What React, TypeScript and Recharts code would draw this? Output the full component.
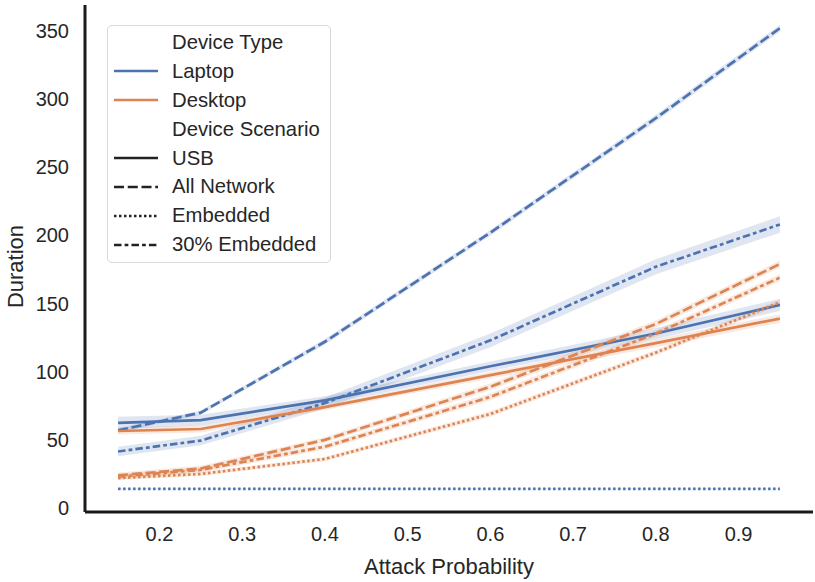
import React from 'react';
import {
    ComposedChart,
    Line,
    Area,
    XAxis,
    YAxis,
    Legend,
} from 'recharts';

const BLUE = '#4c72b0';
const ORANGE = '#dd8452';
const FONT = '"Liberation Sans", Arial, sans-serif';

const attackProb = [0.15, 0.25, 0.4, 0.6, 0.8, 0.95];

// mean durations per device / scenario
const laptopUsb = [62.5, 64.5, 79, 104, 128, 149];
const laptopAllNetwork = [57, 70, 122, 202, 286, 352];
const laptopEmbedded = [14, 14, 14, 14, 14, 14];
const laptop30Embedded = [41.5, 49.5, 77, 123, 177, 208];
const desktopUsb = [56.5, 58, 74, 97.5, 121, 139];
const desktopAllNetwork = [24, 29, 50, 89, 135, 179];
const desktopEmbedded = [22, 25, 36, 69, 114, 151];
const desktop30Embedded = [23, 28, 45, 81.5, 128, 169];

// half-width of the confidence band around each mean
const laptopUsbCi = [4.5, 4, 3, 3.5, 4, 4.5];
const laptopAllNetworkCi = [1.5, 1.5, 2, 2, 2.5, 2.5];
const laptopEmbeddedCi = [0.3, 0.3, 0.3, 0.3, 0.3, 0.3];
const laptop30EmbeddedCi = [3.5, 3.5, 4, 5, 5.5, 6];
const desktopUsbCi = [2.5, 2.5, 2, 2.5, 3, 3];
const desktopAllNetworkCi = [2, 2, 2, 2.5, 2.5, 2.5];
const desktopEmbeddedCi = [1.5, 1.5, 1.5, 2, 2, 2];
const desktop30EmbeddedCi = [2, 2, 2, 2.5, 2.5, 2.5];

const xTicks = [0.2, 0.3, 0.4, 0.5, 0.6, 0.7, 0.8, 0.9];
const yTicks = [0, 50, 100, 150, 200, 250, 300, 350];

const DASH_SOLID = '';
const DASH_NETWORK = '10 3.75';
const DASH_EMBEDDED = '2.5 2.5';
const DASH_30 = '7.5 3.1 3.75 3.1';

const series = [
    { key: 'laptopUsb', values: laptopUsb, ci: laptopUsbCi, color: BLUE, dash: DASH_SOLID },
    { key: 'laptopAllNetwork', values: laptopAllNetwork, ci: laptopAllNetworkCi, color: BLUE, dash: DASH_NETWORK },
    { key: 'laptopEmbedded', values: laptopEmbedded, ci: laptopEmbeddedCi, color: BLUE, dash: DASH_EMBEDDED },
    { key: 'laptop30Embedded', values: laptop30Embedded, ci: laptop30EmbeddedCi, color: BLUE, dash: DASH_30 },
    { key: 'desktopUsb', values: desktopUsb, ci: desktopUsbCi, color: ORANGE, dash: DASH_SOLID },
    { key: 'desktopAllNetwork', values: desktopAllNetwork, ci: desktopAllNetworkCi, color: ORANGE, dash: DASH_NETWORK },
    { key: 'desktopEmbedded', values: desktopEmbedded, ci: desktopEmbeddedCi, color: ORANGE, dash: DASH_EMBEDDED },
    { key: 'desktop30Embedded', values: desktop30Embedded, ci: desktop30EmbeddedCi, color: ORANGE, dash: DASH_30 },
];

const data = attackProb.map((x, i) => {
    const row: Record<string, number | number[]> = { x };
    series.forEach((s) => {
        row[s.key] = s.values[i];
        row[s.key + 'Band'] = [s.values[i] - s.ci[i], s.values[i] + s.ci[i]];
    });
    return row;
});

const legendRows = [
    { label: 'Device Type' },
    { label: 'Laptop', color: BLUE, dash: DASH_SOLID },
    { label: 'Desktop', color: ORANGE, dash: DASH_SOLID },
    { label: 'Device Scenario' },
    { label: 'USB', color: '#222', dash: DASH_SOLID },
    { label: 'All Network', color: '#222', dash: DASH_NETWORK },
    { label: 'Embedded', color: '#222', dash: DASH_EMBEDDED },
    { label: '30% Embedded', color: '#222', dash: DASH_30 },
];

function renderLegend() {
    return (
        <div
            style={{
                border: '1.5px solid #d9d9d9',
                borderRadius: 5,
                background: 'rgba(255,255,255,0.8)',
                padding: '2px 10px 3px 5px',
                fontFamily: FONT,
                fontSize: 20.3,
                color: '#262626',
            }}
        >
            {legendRows.map((r) => (
                <div key={r.label} style={{ display: 'flex', alignItems: 'center', height: 28.9 }}>
                    <svg width={59} height={10} style={{ flex: 'none' }}>
                        {r.color && (
                            <line
                                x1={1}
                                x2={45}
                                y1={5}
                                y2={5}
                                stroke={r.color}
                                strokeWidth={2.7}
                                strokeDasharray={r.dash || undefined}
                            />
                        )}
                    </svg>
                    <span style={{ whiteSpace: 'nowrap' }}>{r.label}</span>
                </div>
            ))}
        </div>
    );
}

const tickStyle = { fontFamily: FONT, fontSize: 20, fill: '#262626' };

export default function App() {
    return (
        <div style={{ position: 'absolute', left: 0, top: 0, background: '#fff' }}>
            <ComposedChart
                width={815}
                height={582}
                data={data}
                margin={{ top: 5, right: 2, left: 0, bottom: 0 }}
            >
                <XAxis
                    dataKey="x"
                    type="number"
                    domain={[0.11, 0.99]}
                    ticks={xTicks}
                    tickFormatter={(v: number) => v.toFixed(1)}
                    height={70}
                    tickLine={false}
                    tickSize={0}
                    tickMargin={15}
                    axisLine={{ stroke: '#1a1a1a', strokeWidth: 3 }}
                    tick={tickStyle}
                    allowDataOverflow
                    label={{
                        value: 'Attack Probability',
                        position: 'insideBottom',
                        offset: 8,
                        style: { fontFamily: FONT, fontSize: 22, fill: '#262626' },
                    }}
                />
                <YAxis
                    type="number"
                    domain={[-2.9, 369]}
                    ticks={yTicks}
                    width={85}
                    tickLine={false}
                    tickSize={0}
                    tickMargin={16}
                    axisLine={{ stroke: '#1a1a1a', strokeWidth: 3 }}
                    tick={tickStyle}
                    allowDataOverflow
                    label={{
                        value: 'Duration',
                        angle: -90,
                        position: 'insideLeft',
                        offset: 15,
                        dy: 8,
                        style: { fontFamily: FONT, fontSize: 22, fill: '#262626', textAnchor: 'middle' },
                    }}
                />
                {series.map((s) => (
                    <Area
                        key={s.key + 'Band'}
                        dataKey={s.key + 'Band'}
                        stroke="none"
                        fill={s.color}
                        fillOpacity={0.18}
                        isAnimationActive={false}
                        activeDot={false}
                        legendType="none"
                    />
                ))}
                {series.map((s) => (
                    <Line
                        key={s.key}
                        dataKey={s.key}
                        stroke={s.color}
                        strokeWidth={2.7}
                        strokeDasharray={s.dash || undefined}
                        dot={false}
                        activeDot={false}
                        isAnimationActive={false}
                    />
                ))}
                <Legend
                    layout="vertical"
                    align="center"
                    verticalAlign="middle"
                    content={renderLegend}
                    wrapperStyle={{ left: 107, top: 25, width: 'auto' }}
                />
            </ComposedChart>
        </div>
    );
}
